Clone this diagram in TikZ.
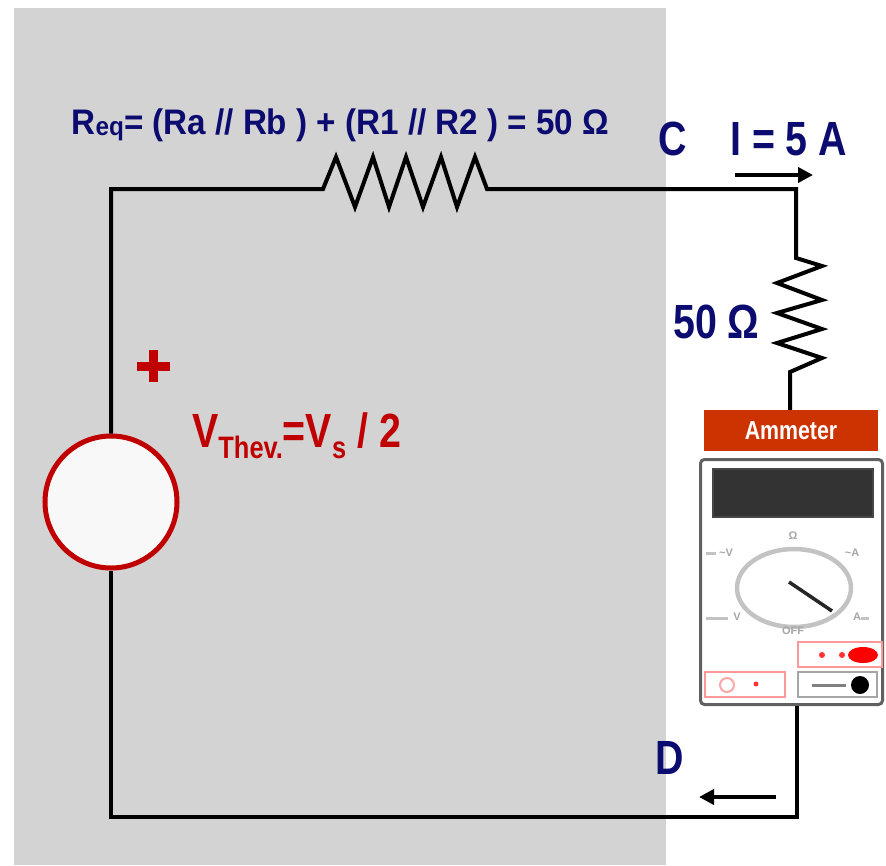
\documentclass[tikz,border=0pt]{standalone}
\usepackage{fontspec}
\setmainfont{Liberation Sans}
\newfontfamily\narrowbf{Liberation Sans Bold}[FakeStretch=0.82]
\newfontfamily\reqbf{Liberation Sans Bold}[FakeStretch=0.935]
\usetikzlibrary{arrows.meta,shapes.geometric}

\definecolor{panel}{RGB}{211,211,211}
\definecolor{navy}{RGB}{12,12,112}
\definecolor{srcred}{RGB}{192,0,0}
\definecolor{tagred}{RGB}{204,51,0}
\definecolor{srcfill}{RGB}{248,248,248}
\definecolor{lcd}{RGB}{51,51,51}
\definecolor{dialgray}{RGB}{195,195,195}

\newcommand{\subtxt}[2]{\raisebox{-#1}{\fontsize{31}{31}\selectfont #2}}

\begin{document}
\begin{tikzpicture}[x=1pt,y=-1pt,
  wire/.style={line width=4pt,line join=miter,line cap=butt,black},
  flow/.style={line width=4pt,-{Triangle[length=15pt,width=15pt]}},
  navylabel/.style={text=navy,font=\narrowbf\fontsize{48}{48}\selectfont,inner sep=0pt,anchor=base west},
  redlabel/.style={text=srcred,font=\narrowbf\fontsize{48}{48}\selectfont,inner sep=0pt,anchor=base west},
  dialtxt/.style={text=gray!70,font=\bfseries\fontsize{11}{11}\selectfont,inner sep=0pt}]
\useasboundingbox (0,0) rectangle (886,865);
\fill[white] (0,0) rectangle (886,865);
\fill[panel] (14,8) rectangle (666,865);

% Thevenin source
\node[circle,draw=srcred,line width=5pt,fill=srcfill,minimum size=132pt,inner sep=0pt] (src) at (111,502) {};
\draw[srcred,line width=9pt] (137,366) -- (170,366) (153.5,350) -- (153.5,382);
\node[redlabel] (vth) at (192,447) {V\subtxt{11pt}{Thev.}=V\subtxt{11pt}{s} / 2};

% equivalent resistance
\coordinate (r1a) at (323,189);
\coordinate (r1b) at (487,189);
\node[text=navy,font=\reqbf\fontsize{35.5}{35.5}\selectfont,inner sep=0pt,anchor=base west] (req) at (71.5,134)
  {R\raisebox{-1.5pt}{\fontsize{26}{26}\selectfont eq}= (Ra // Rb ) + (R1 // R2 ) = 50 Ω};

% load resistor
\coordinate (r2a) at (796,258);
\coordinate (r2b) at (790,372);
\node[navylabel] (rl) at (673,338) {50 Ω};

% terminals and current
\node[navylabel] (tc) at (658,155) {C};
\node[navylabel] (ti) at (730,155) {I = 5 A};
\node[navylabel] (td) at (655,774) {D};
\coordinate (ia) at (735,175);
\coordinate (ib) at (813,175);
\coordinate (ja) at (776,797);
\coordinate (jb) at (699,797);
\draw[flow] (ia) -- (ib);
\draw[flow] (ja) -- (jb);

% ammeter
\node[fill=tagred,minimum width=174pt,minimum height=41pt,inner sep=0pt,
      text=white,font=\narrowbf\fontsize{26}{26}\selectfont] (tag) at (791,430.5) {Ammeter};
\node[draw=gray!75!black,line width=3pt,fill=white,rounded corners=4pt,
      minimum width=182pt,minimum height=245pt,inner sep=0pt] (meter) at (791.5,582) {};
\fill[lcd] (713,469) rectangle (873,517);
\draw[gray!55!black,line width=1.5pt] (713,469) rectangle (873,517);
\draw[dialgray,line width=4.5pt] (794,588) ellipse [x radius=57pt,y radius=39pt];
\draw[black!85,line width=3.5pt] (789,582) -- (832,611);
\draw[dialgray,line width=3pt] (706,553) -- (716,553) (706,618) -- (728,618) (861,618) -- (869,618);
\node[dialtxt] (dohm) at (793,536) {Ω};
\node[dialtxt] (dacv) at (726,553) {\textasciitilde V};
\node[dialtxt] (daca) at (852,553) {\textasciitilde A};
\node[dialtxt] (ddcv) at (737,617) {V};
\node[dialtxt] (ddca) at (857,617) {A};
\node[dialtxt] (doff) at (793,631) {OFF};
% input jacks
\draw[red!40,line width=2pt] (798,642) rectangle (882,667);
\fill[red!80] (822,655) circle [radius=3pt] (842,655) circle [radius=3pt];
\fill[red] (863,655) ellipse [x radius=15pt,y radius=8pt];
\draw[red!40,line width=2pt] (705,672) rectangle (785,697);
\draw[red!35,line width=2pt] (727,685) circle [radius=7pt];
\fill[red!80] (756,684) circle [radius=2.5pt];
\draw[gray!70,line width=2pt] (798,672) rectangle (877,697);
\draw[gray,line width=3pt] (812,685) -- (846,685);
\fill[black] (860,685) circle [radius=9pt];

% circuit wiring
\draw[wire] (src.north) |- (r1a)
  -- (336,157) -- (355,207) -- (373,157) -- (389,207) -- (406,157)
  -- (423,207) -- (441,157) -- (457,207) -- (475,157) -- (r1b)
  -| (r2a)
  -- (822,266) -- (777,283) -- (822,300) -- (777,313) -- (822,329)
  -- (777,343) -- (822,358) -- (r2b) -- (tag.north -| r2b);
\coordinate (dc) at (797,817);
\draw[wire] (src.south) |- (dc) -- (meter.south -| dc);
\end{tikzpicture}
\end{document}
